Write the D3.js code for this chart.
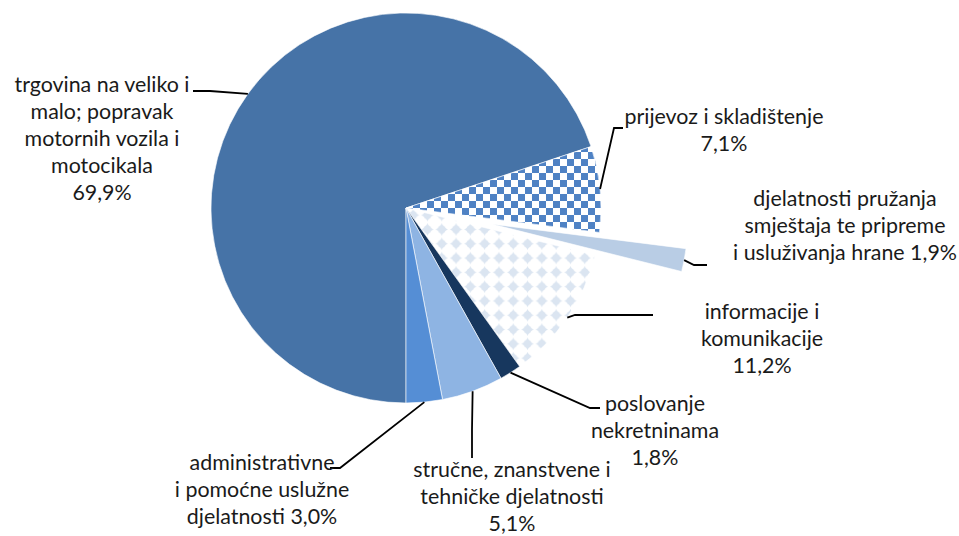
<!DOCTYPE html>
<html>
<head>
<meta charset="utf-8">
<script src="https://cdn.jsdelivr.net/npm/d3@7"></script>
<style>
  body { margin: 0; background: #fff; }
  text { font-family: Lato, "Open Sans", sans-serif; font-size: 21.4px; fill: #1a1a1a; }
</style>
</head>
<body>
<div id="chart"></div>
<script>
// data, in the order Excel draws the slices (first slice starts at 6 o'clock)
var categories = ["trgovina", "prijevoz", "smjestaj", "informacije", "nekretnine", "strucne", "administrativne"];
var values = [69.9, 7.1, 1.9, 11.2, 1.8, 5.1, 3.0];
var labelLines = [
  ["trgovina na veliko i", "malo; popravak", "motornih vozila i", "motocikala", "69,9%"],
  ["prijevoz i skladištenje", "7,1%"],
  ["djelatnosti pružanja", "smještaja te pripreme", "i usluživanja hrane 1,9%"],
  ["informacije i", "komunikacije", "11,2%"],
  ["poslovanje", "nekretninama", "1,8%"],
  ["stručne, znanstvene i", "tehničke djelatnosti", "5,1%"],
  ["administrativne", "i pomoćne uslužne", "djelatnosti 3,0%"]
];
var exploded = ["smjestaj"];

// fills and label layout
var fills = ["#4673a7", "url(#checker)", "#b9cde5", "url(#diamonds)", "#17375e", "#8eb4e3", "#558ed5"];
var labelPos = [
  {x: 102, y: 85, elbow: [210, 91], end: [193, 91]},
  {x: 724, y: 117, elbow: [614, 128], end: [623, 128]},
  {x: 845, y: 199, elbow: [694, 265], end: [707, 265]},
  {x: 762, y: 312, elbow: [575, 315], end: [653, 315]},
  {x: 655, y: 404, elbow: [590, 408], end: [600, 408]},
  {x: 512, y: 470, elbow: [472, 430], end: [472, 458]},
  {x: 262, y: 463, elbow: [340, 468], end: [330, 468]}
];
var lineHeight = 26.8;

var width = 959, height = 536,
    cx = 406, cy = 208, radius = 195, explodeOffset = 88;

var svg = d3.select("#chart").append("svg")
    .attr("width", width)
    .attr("height", height);

// patterns
var defs = svg.append("defs");
var checker = defs.append("pattern")
    .attr("id", "checker")
    .attr("patternUnits", "userSpaceOnUse")
    .attr("width", 14).attr("height", 14);
checker.append("rect").attr("width", 14).attr("height", 14).attr("fill", "#fff");
checker.append("rect").attr("width", 7).attr("height", 7).attr("fill", "#4f82c4");
checker.append("rect").attr("x", 7).attr("y", 7).attr("width", 7).attr("height", 7).attr("fill", "#4f82c4");

var diamonds = defs.append("pattern")
    .attr("id", "diamonds")
    .attr("patternUnits", "userSpaceOnUse")
    .attr("width", 14.3).attr("height", 14.3);
diamonds.append("rect").attr("width", 14.3).attr("height", 14.3).attr("fill", "#fff");
diamonds.append("path")
    .attr("d", "M7.15,1 L9.2,5.1 L13.3,7.15 L9.2,9.2 L7.15,13.3 L5.1,9.2 L1,7.15 L5.1,5.1Z")
    .attr("fill", "#dbe5f1");
diamonds.append("circle").attr("cx", 7.15).attr("cy", 7.15).attr("r", 4).attr("fill", "#dbe5f1");

var pie = d3.pie()
    .sort(null)
    .startAngle(Math.PI)
    .endAngle(3 * Math.PI)
    .value(function(d) { return d; });

var arc = d3.arc().innerRadius(0).outerRadius(radius);

var slices = pie(values);

function shift(d, i) {
  if (exploded.indexOf(categories[i]) < 0) return [0, 0];
  var a = (d.startAngle + d.endAngle) / 2;
  return [explodeOffset * Math.sin(a), -explodeOffset * Math.cos(a)];
}

var g = svg.append("g")
    .attr("transform", "translate(" + cx + "," + cy + ")");

g.selectAll(".slice")
  .data(slices)
  .enter()
  .append("path")
    .attr("class", "slice")
    .attr("transform", function(d, i) { var s = shift(d, i); return "translate(" + s[0] + "," + s[1] + ")"; })
    .attr("d", arc)
    .attr("fill", function(d, i) { return fills[i]; })
    .attr("stroke", "#fff")
    .attr("stroke-width", 0.6);

// leader lines
svg.selectAll(".leader")
  .data(slices)
  .enter()
  .append("polyline")
    .attr("class", "leader")
    .attr("fill", "none")
    .attr("stroke", "#000")
    .attr("stroke-width", 1.8)
    .attr("points", function(d, i) {
      var s = shift(d, i);
      var a = (d.startAngle + d.endAngle) / 2;
      var p = [cx + s[0] + radius * Math.sin(a), cy + s[1] - radius * Math.cos(a)];
      return [p, labelPos[i].elbow, labelPos[i].end].map(function(q) { return q.join(","); }).join(" ");
    });

// labels
var labels = svg.selectAll(".label")
  .data(slices)
  .enter()
  .append("text")
    .attr("class", "label")
    .attr("text-anchor", "middle");

labels.each(function(d, i) {
  var t = d3.select(this);
  labelLines[i].forEach(function(line, k) {
    t.append("tspan")
      .attr("x", labelPos[i].x)
      .attr("y", labelPos[i].y + k * lineHeight)
      .attr("dy", "0.35em")
      .text(line);
  });
});
</script>
</body>
</html>
